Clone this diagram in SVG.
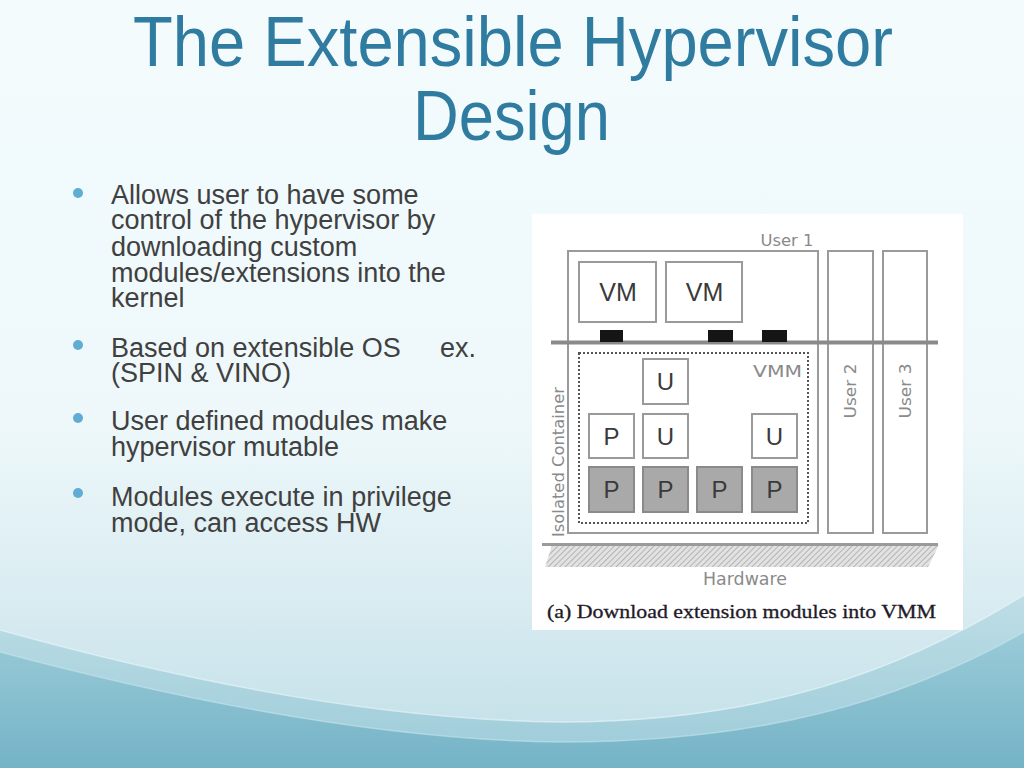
<svg xmlns="http://www.w3.org/2000/svg" width="1024" height="768" viewBox="0 0 1024 768">
<defs>
<linearGradient id="bg" x1="0" y1="0" x2="0" y2="1">
<stop offset="0" stop-color="#f3fbfd"/>
<stop offset="0.55" stop-color="#eef8fa"/>
<stop offset="0.78" stop-color="#d9ecf1"/>
<stop offset="1" stop-color="#bfdee7"/>
</linearGradient>
<linearGradient id="waveA" x1="0" y1="0" x2="0" y2="1">
<stop offset="0" stop-color="#b2d7e1"/>
<stop offset="1" stop-color="#8cc3d2"/>
</linearGradient>
<linearGradient id="waveB" x1="0" y1="0" x2="0" y2="1">
<stop offset="0" stop-color="#93c7d5"/>
<stop offset="1" stop-color="#6aadc2"/>
</linearGradient>
<pattern id="hatch" width="4" height="4" patternUnits="userSpaceOnUse" patternTransform="rotate(45)">
<rect width="4" height="4" fill="#e2e2e2"/>
<line x1="0" y1="0" x2="0" y2="4" stroke="#a8a8a8" stroke-width="1.6"/>
</pattern>
<style>
.title{font-family:"Liberation Sans",Arial,sans-serif;font-size:70px;fill:#2f7ca0;text-anchor:middle}
.bul{font-family:"Liberation Sans",Arial,sans-serif;font-size:27px;fill:#404040}
.dot{fill:#5fadd2}
.box{fill:#ffffff;stroke:#9a9a9a;stroke-width:2}
.gbox{fill:#a9a9a9;stroke:#8a8a8a;stroke-width:2}
.lbl{font-family:"Liberation Sans",Arial,sans-serif;fill:#3a3a3a;text-anchor:middle}
.glbl{font-family:"DejaVu Sans",Verdana,sans-serif;fill:#8a8a8a;text-anchor:middle}
.pad{fill:#151515}
</style>
</defs>

<!-- background -->
<rect x="0" y="0" width="1024" height="768" fill="url(#bg)"/>
<path d="M0,630 C180,680 380,720 560,722 C760,722 900,672 1024,595 L1024,768 L0,768 Z" fill="url(#waveA)" opacity="0.7"/>
<path d="M0,652 C180,700 380,740 560,742 C760,742 900,702 1024,632 L1024,768 L0,768 Z" fill="url(#waveB)" opacity="0.8"/>
<path d="M0,630 C180,680 380,720 560,722 C760,722 900,672 1024,595" fill="none" stroke="#e6f4f8" stroke-width="1.5" opacity="0.7"/>
<path d="M0,652 C180,700 380,740 560,742 C760,742 900,702 1024,632" fill="none" stroke="#c6e4ec" stroke-width="1.5" opacity="0.6"/>

<!-- title -->
<g id="title">
<text class="title" x="513" y="66" textLength="760" lengthAdjust="spacingAndGlyphs">The Extensible Hypervisor</text>
<text class="title" x="511.5" y="140" textLength="197" lengthAdjust="spacingAndGlyphs">Design</text>
</g>

<!-- bullets -->
<g id="bullets">
<circle class="dot" cx="78" cy="193" r="5"/>
<text class="bul" x="111" y="203.5">Allows user to have some</text>
<text class="bul" x="111" y="229.3">control of the hypervisor by</text>
<text class="bul" x="111" y="255.5">downloading custom</text>
<text class="bul" x="111" y="281.5">modules/extensions into the</text>
<text class="bul" x="111" y="307">kernel</text>

<circle class="dot" cx="78" cy="345" r="5"/>
<text class="bul" x="111" y="356.7">Based on extensible OS</text>
<text class="bul" x="440" y="356.7">ex.</text>
<text class="bul" x="111" y="382.3">(SPIN &amp; VINO)</text>

<circle class="dot" cx="78" cy="418" r="5"/>
<text class="bul" x="111" y="430">User defined modules make</text>
<text class="bul" x="111" y="456">hypervisor mutable</text>

<circle class="dot" cx="78" cy="493" r="5"/>
<text class="bul" x="111" y="506">Modules execute in privilege</text>
<text class="bul" x="111" y="531.7">mode, can access HW</text>
</g>

<!-- figure panel -->
<rect x="532" y="214" width="431" height="416" fill="#ffffff"/>

<g id="user1">
<rect class="box" x="568" y="251" width="250" height="282"/>
<text class="glbl" x="787" y="246" font-size="16" textLength="53" lengthAdjust="spacingAndGlyphs">User 1</text>
</g>
<g id="user2">
<rect class="box" x="828" y="251" width="45" height="282"/>
<text class="glbl" font-size="15" transform="translate(856,391) rotate(-90)" textLength="55" lengthAdjust="spacingAndGlyphs">User 2</text>
</g>
<g id="user3">
<rect class="box" x="883" y="251" width="44" height="282"/>
<text class="glbl" font-size="15" transform="translate(911,391) rotate(-90)" textLength="55" lengthAdjust="spacingAndGlyphs">User 3</text>
</g>

<g id="vm1">
<rect class="box" x="579" y="262" width="77" height="60"/>
<text class="lbl" x="618" y="301" font-size="25">VM</text>
</g>
<g id="vm2">
<rect class="box" x="666" y="262" width="76" height="60"/>
<text class="lbl" x="704.5" y="301" font-size="25">VM</text>
</g>

<g id="vmm">
<rect x="579" y="353" width="229" height="170" fill="none" stroke="#555555" stroke-width="2" stroke-dasharray="2 2"/>
<text class="glbl" x="777.5" y="377" font-size="16" fill="#7a7a7a" textLength="49" lengthAdjust="spacingAndGlyphs">VMM</text>
</g>

<g id="isolated-container">
<text class="glbl" font-size="15" transform="translate(564,462) rotate(-90)" textLength="150" lengthAdjust="spacingAndGlyphs">Isolated Container</text>
</g>

<g id="u-top">
<rect class="box" x="643" y="359" width="45" height="45"/>
<text class="lbl" x="665.5" y="390" font-size="24">U</text>
</g>
<g id="p-1">
<rect class="box" x="589" y="414" width="45" height="44"/>
<text class="lbl" x="611.5" y="445" font-size="24">P</text>
</g>
<g id="u-2">
<rect class="box" x="643" y="414" width="45" height="44"/>
<text class="lbl" x="665.5" y="445" font-size="24">U</text>
</g>
<g id="u-3">
<rect class="box" x="752" y="414" width="45" height="44"/>
<text class="lbl" x="774.5" y="445" font-size="24">U</text>
</g>
<g id="pg-1">
<rect class="gbox" x="589" y="467" width="45" height="45"/>
<text class="lbl" x="611.5" y="498" font-size="24" fill="#222">P</text>
</g>
<g id="pg-2">
<rect class="gbox" x="643" y="467" width="45" height="45"/>
<text class="lbl" x="665.5" y="498" font-size="24" fill="#222">P</text>
</g>
<g id="pg-3">
<rect class="gbox" x="697" y="467" width="45" height="45"/>
<text class="lbl" x="719.5" y="498" font-size="24" fill="#222">P</text>
</g>
<g id="pg-4">
<rect class="gbox" x="752" y="467" width="45" height="45"/>
<text class="lbl" x="774.5" y="498" font-size="24" fill="#222">P</text>
</g>

<g id="connectors">
<line x1="551" y1="342.5" x2="938" y2="342.5" stroke="#8a8a8a" stroke-width="4"/>
<rect class="pad" x="600" y="330" width="23" height="12"/>
<rect class="pad" x="708" y="330" width="25" height="12"/>
<rect class="pad" x="762" y="330" width="25" height="12"/>
</g>

<g id="hardware">
<polygon points="552,545 939,545 928,567 545,567" fill="url(#hatch)"/>
<line x1="542" y1="544.5" x2="938" y2="544.5" stroke="#9a9a9a" stroke-width="3"/>
<text class="glbl" x="745" y="585" font-size="17" fill="#555" textLength="84" lengthAdjust="spacingAndGlyphs">Hardware</text>
</g>

<g id="caption">
<text x="547" y="618" font-family="'Liberation Serif','Times New Roman',serif" font-size="18" fill="#221a28" stroke="#221a28" stroke-width="0.3" textLength="389" lengthAdjust="spacingAndGlyphs">(a) Download extension modules into VMM</text>
</g>
</svg>
